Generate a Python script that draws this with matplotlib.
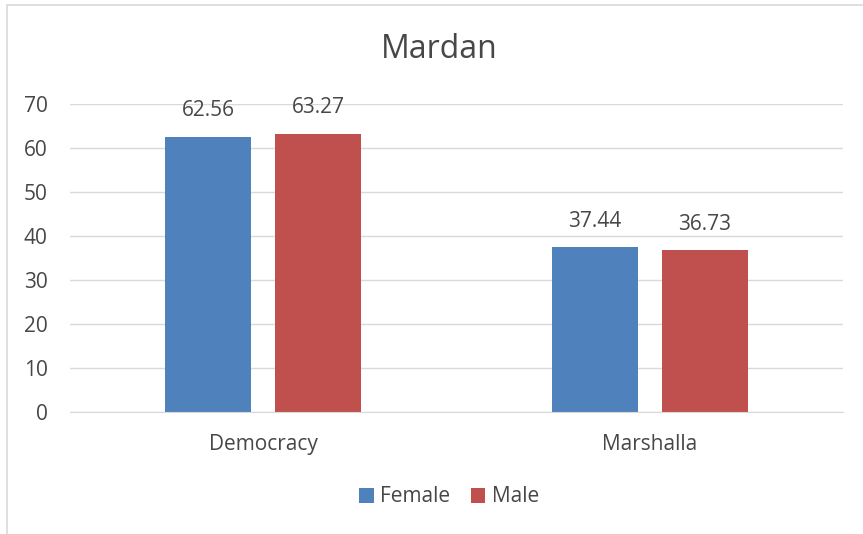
import numpy as np
import matplotlib
matplotlib.use('Agg')
import matplotlib.pyplot as plt
from matplotlib.patches import Rectangle

categories = ['Democracy', 'Marshalla']
female = [62.56, 37.44]
male = [63.27, 36.73]
series_names = ['Female', 'Male']
yticks = [0, 10, 20, 30, 40, 50, 60, 70]

text_color = '#474747'
plt.rcParams['font.family'] = ['Open Sans', 'DejaVu Sans']

fig = plt.figure(figsize=(8.63, 5.34), dpi=100)
ax = fig.add_axes([70 / 863, 122 / 534, 773 / 863, 308 / 534])

x = np.arange(len(categories))
w = 0.2225
off = 0.142
b1 = ax.bar(x - off, female, w, color='#4F81BD', label=series_names[0], zorder=3)
b2 = ax.bar(x + off, male, w, color='#C0504D', label=series_names[1], zorder=3)

for bars, vals in ((b1, female), (b2, male)):
    for r, v in zip(bars, vals):
        ax.annotate(f'{v:.2f}', (r.get_x() + r.get_width() / 2, v),
                    xytext=(0, 26), textcoords='offset pixels', ha='center',
                    va='center', fontsize=15, color=text_color)

ax.set_xlim(-0.5, 1.5)
ax.set_ylim(0, 70)
ax.set_yticks(yticks)
ax.set_xticks(x)
ax.set_xticklabels(categories)
ax.tick_params(axis='both', length=0, labelsize=15, colors=text_color)
ax.tick_params(axis='x', pad=16)
ax.tick_params(axis='y', pad=16)
ax.grid(axis='y', color='#D9D9D9', linewidth=1, zorder=0)
for s in ['top', 'right', 'left']:
    ax.spines[s].set_visible(False)
ax.spines['bottom'].set_color('#D9D9D9')
ax.spines['bottom'].set_zorder(4)

fig.text(439 / 863, 1 - 50 / 534, 'Mardan', ha='center', va='center',
         fontsize=23, color=text_color)

fig.legend(handles=[b1, b2], loc='center', bbox_to_anchor=(449 / 863, 1 - 497 / 534),
           ncol=2, frameon=False, fontsize=15, labelcolor=text_color,
           handlelength=0.7, handleheight=0.7, handletextpad=0.3, columnspacing=1.0)

fig.add_artist(Rectangle((7 / 863, -0.1), 1.2, (534 - 5) / 534 + 0.1,
                         transform=fig.transFigure, fill=False,
                         edgecolor='#D9D9D9', linewidth=1.2))

fig.savefig('out.png', dpi=100)
